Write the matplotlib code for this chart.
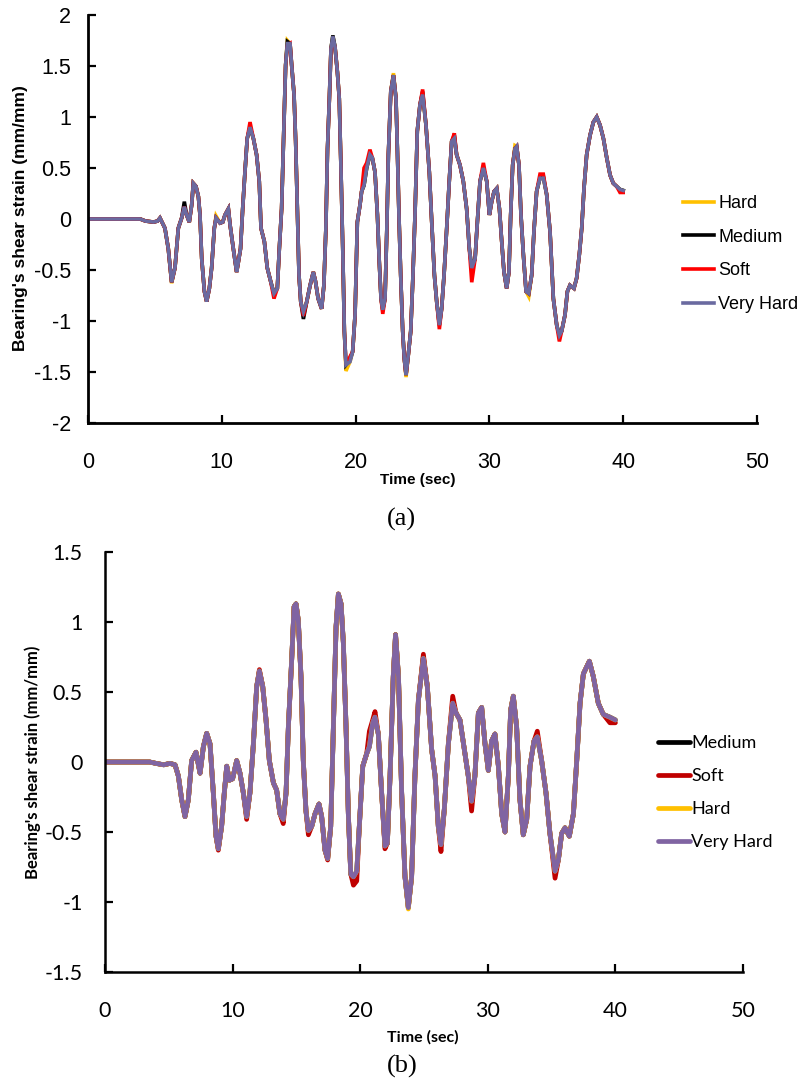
import matplotlib
matplotlib.use("Agg")
import matplotlib.pyplot as plt
from matplotlib.ticker import FuncFormatter

plt.rcParams['axes.unicode_minus'] = False

# ---------------- Panel (a) data ----------------
time_a = [0, 3.9, 4.3, 4.9, 5.2, 5.38, 5.75, 6.0, 6.25, 6.5,
          6.75, 7.0, 7.2, 7.37, 7.57, 7.75, 7.87, 8.07, 8.25, 8.37,
          8.5, 8.7, 8.87, 9.07, 9.24, 9.44, 9.57, 9.87, 10.07, 10.24,
          10.49, 10.62, 10.86, 11.11, 11.24, 11.4, 11.56, 11.73, 11.9, 12.11,
          12.36, 12.6, 12.8, 12.93, 13.18, 13.4, 13.65, 13.9, 14.15, 14.3,
          14.47, 14.65, 14.77, 14.9, 15.1, 15.22, 15.4, 15.52, 15.65, 15.77,
          15.9, 16.1, 16.35, 16.6, 16.84, 17.0, 17.2, 17.46, 17.63, 17.78,
          17.9, 18.04, 18.16, 18.3, 18.46, 18.64, 18.78, 18.9, 19.04, 19.16,
          19.28, 19.58, 19.78, 19.96, 20.13, 20.33, 20.45, 20.63, 20.83, 21.07,
          21.25, 21.45, 21.63, 21.77, 21.9, 22.03, 22.2, 22.33, 22.45, 22.63,
          22.83, 23.02, 23.12, 23.24, 23.37, 23.52, 23.64, 23.77, 23.94, 24.12,
          24.27, 24.44, 24.61, 24.81, 25.01, 25.26, 25.51, 25.69, 25.89, 26.06,
          26.26, 26.43, 26.61, 26.81, 27.0, 27.18, 27.38, 27.55, 27.8, 28.05,
          28.3, 28.5, 28.68, 28.93, 29.1, 29.3, 29.55, 29.8, 30.0, 30.17,
          30.35, 30.55, 30.75, 30.92, 31.09, 31.29, 31.46, 31.59, 31.74, 31.91,
          32.04, 32.21, 32.36, 32.54, 32.74, 32.94, 33.16, 33.33, 33.53, 33.78,
          34.03, 34.28, 34.53, 34.78, 35.03, 35.23, 35.4, 35.65, 35.83, 36.02,
          36.32, 36.52, 36.72, 36.9, 37.07, 37.27, 37.52, 37.77, 38.02, 38.27,
          38.52, 38.77, 39.02, 39.26, 39.51, 39.76, 40.0]

very_hard_a = [0, 0, -0.02, -0.03, -0.02, 0.01, -0.09, -0.29, -0.62, -0.48,
               -0.09, 0.01, 0.12, 0.04, -0.03, 0.14, 0.35, 0.32, 0.22, 0.04,
               -0.39, -0.71, -0.81, -0.68, -0.48, -0.09, 0.01, -0.04, -0.03, 0.04,
               0.10, -0.06, -0.29, -0.52, -0.42, -0.29, 0.10, 0.46, 0.79, 0.90,
               0.79, 0.63, 0.37, -0.09, -0.22, -0.48, -0.61, -0.73, -0.68, -0.29,
               0.10, 0.95, 1.51, 1.72, 1.72, 1.51, 1.22, 0.76, 0.10, -0.55,
               -0.81, -0.91, -0.81, -0.65, -0.52, -0.61, -0.78, -0.88, -0.65, -0.09,
               0.69, 1.18, 1.67, 1.79, 1.69, 1.44, 1.18, 0.53, -0.29, -1.10,
               -1.43, -1.40, -1.30, -0.94, -0.03, 0.14, 0.27, 0.33, 0.50, 0.63,
               0.60, 0.46, 0.04, -0.42, -0.78, -0.89, -0.78, -0.12, 0.63, 1.25,
               1.41, 1.18, 0.69, 0.04, -0.55, -1.10, -1.37, -1.53, -1.33, -1.10,
               -0.61, 0.04, 0.86, 1.12, 1.22, 0.92, 0.46, -0.03, -0.55, -0.81,
               -1.04, -0.88, -0.55, -0.09, 0.37, 0.76, 0.79, 0.63, 0.53, 0.37,
               0.10, -0.29, -0.48, -0.39, -0.03, 0.37, 0.50, 0.37, 0.04, 0.17,
               0.27, 0.30, 0.10, -0.22, -0.52, -0.68, -0.52, 0.04, 0.53, 0.69,
               0.71, 0.53, 0.04, -0.35, -0.71, -0.73, -0.55, -0.12, 0.27, 0.40,
               0.40, 0.24, -0.12, -0.78, -1.04, -1.14, -1.10, -0.94, -0.71, -0.65,
               -0.68, -0.58, -0.35, -0.09, 0.30, 0.63, 0.82, 0.95, 1.00, 0.92,
               0.79, 0.60, 0.43, 0.35, 0.32, 0.29, 0.28]

# values that differ from the Very Hard trace (time -> strain)
soft_a_diff = {12.11: 0.95, 13.9: -0.78, 16.1: -0.95, 19.58: -1.35, 20.63: 0.50,
               20.83: 0.55, 21.07: 0.68, 22.03: -0.93, 25.01: 1.27, 26.26: -1.08,
               27.38: 0.84, 28.68: -0.62, 29.55: 0.55, 33.78: 0.44, 34.03: 0.44,
               35.23: -1.20, 39.76: 0.26, 40.0: 0.26, 18.3: 1.74, 14.9: 1.70}
medium_a_diff = {7.2: 0.17, 14.9: 1.74, 16.1: -0.98, 18.3: 1.80, 19.58: -1.38,
                 25.01: 1.25, 27.38: 0.82, 34.03: 0.42}
hard_a_diff = {6.25: -0.63, 9.57: 0.03, 14.9: 1.75, 19.28: -1.49, 22.83: 1.43,
               23.77: -1.55, 31.91: 0.72, 32.94: -0.76}

# ---------------- Panel (b) data ----------------
time_b = [0, 3.5, 4.0, 4.6, 5.09, 5.49, 5.75, 6.01, 6.27, 6.53,
          6.79, 7.13, 7.45, 7.71, 7.97, 8.23, 8.49, 8.7, 8.88, 9.14,
          9.35, 9.54, 9.75, 10.0, 10.32, 10.58, 10.84, 11.1, 11.36, 11.63,
          11.89, 12.1, 12.36, 12.62, 12.88, 13.2, 13.45, 13.71, 13.97, 14.19,
          14.37, 14.63, 14.82, 14.97, 15.15, 15.36, 15.54, 15.75, 15.94, 16.2,
          16.46, 16.77, 16.98, 17.24, 17.45, 17.69, 17.9, 18.11, 18.29, 18.5,
          18.68, 18.89, 19.07, 19.26, 19.47, 19.73, 19.93, 20.2, 20.51, 20.72,
          20.98, 21.16, 21.42, 21.68, 21.94, 22.13, 22.34, 22.59, 22.77, 23.0,
          23.25, 23.51, 23.77, 24.03, 24.29, 24.56, 24.95, 25.26, 25.6, 25.87,
          26.12, 26.33, 26.59, 26.91, 27.25, 27.51, 27.82, 28.13, 28.47, 28.73,
          28.99, 29.26, 29.52, 29.78, 30.04, 30.3, 30.56, 30.83, 31.09, 31.35,
          31.61, 31.79, 32.0, 32.26, 32.52, 32.78, 33.05, 33.31, 33.62, 33.88,
          34.22, 34.56, 34.87, 35.27, 35.53, 35.79, 36.05, 36.39, 36.71, 36.97,
          37.23, 37.49, 37.96, 38.27, 38.66, 39.05, 39.57, 40.0]

very_hard_b = [0, 0, -0.01, -0.02, -0.01, -0.02, -0.10, -0.27, -0.39, -0.27,
               0.01, 0.07, -0.08, 0.11, 0.205, 0.13, -0.22, -0.53, -0.62, -0.46,
               -0.22, -0.03, -0.13, -0.12, 0.01, -0.08, -0.22, -0.39, -0.22, 0.13,
               0.54, 0.65, 0.54, 0.30, 0.01, -0.15, -0.20, -0.37, -0.41, -0.22,
               0.25, 0.73, 1.11, 1.13, 1.01, 0.61, 0.01, -0.35, -0.49, -0.46,
               -0.37, -0.30, -0.39, -0.63, -0.69, -0.46, 0.25, 0.97, 1.20, 1.13,
               0.85, 0.25, -0.37, -0.80, -0.82, -0.78, -0.46, -0.03, 0.06, 0.11,
               0.28, 0.32, 0.20, -0.22, -0.60, -0.58, -0.10, 0.61, 0.91, 0.61,
               -0.22, -0.82, -1.04, -0.82, -0.10, 0.44, 0.74, 0.54, 0.09, -0.10,
               -0.46, -0.59, -0.34, 0.13, 0.42, 0.35, 0.30, 0.11, -0.10, -0.28,
               -0.10, 0.35, 0.39, 0.13, -0.06, 0.15, 0.20, -0.03, -0.37, -0.50,
               -0.10, 0.37, 0.47, 0.25, -0.27, -0.52, -0.41, -0.03, 0.15, 0.18,
               0.01, -0.22, -0.51, -0.78, -0.70, -0.51, -0.47, -0.53, -0.37, 0.01,
               0.42, 0.63, 0.72, 0.61, 0.42, 0.34, 0.32, 0.30]

soft_b_diff = {8.88: -0.63, 11.1: -0.41, 12.1: 0.66, 13.97: -0.44, 15.94: -0.52,
               17.45: -0.70, 19.47: -0.88, 19.73: -0.85, 20.72: 0.22, 20.98: 0.30,
               21.16: 0.36, 21.94: -0.62, 24.95: 0.77, 26.33: -0.64, 27.25: 0.47,
               28.73: -0.35, 33.88: 0.22, 35.27: -0.83, 39.57: 0.28, 40.0: 0.28}
medium_b_diff = {19.47: -0.84, 24.95: 0.75}
hard_b_diff = {23.77: -1.05}

labels_a = ["Hard", "Medium", "Soft", "Very Hard"]
labels_b = ["Medium", "Soft", "Hard", "Very Hard"]
xticks = [0, 10, 20, 30, 40, 50]
yticks_a = [-2, -1.5, -1, -0.5, 0, 0.5, 1, 1.5, 2]
yticks_b = [-1.5, -1, -0.5, 0, 0.5, 1, 1.5]


def series(times, base, diff):
    return [diff.get(t, v) for t, v in zip(times, base)]


W, H = 798, 1081
fig = plt.figure(figsize=(W / 100, H / 100), dpi=100)
fmt = FuncFormatter(lambda v, p: "%g" % v)

# ---------------- Panel (a) ----------------
ax1 = fig.add_axes([88 / W, 1 - 423 / H, (757 - 88) / W, (423 - 15) / H])
cols_a = {"Hard": "#FFC000", "Medium": "#000000", "Soft": "#FF0000", "Very Hard": "#6A6AA0"}
data_a = {"Hard": series(time_a, very_hard_a, hard_a_diff),
          "Medium": series(time_a, very_hard_a, medium_a_diff),
          "Soft": series(time_a, very_hard_a, soft_a_diff),
          "Very Hard": very_hard_a}
handles_a = []
for lab in labels_a:
    ln, = ax1.plot(time_a, data_a[lab], color=cols_a[lab], lw=2.6, solid_joinstyle='miter')
    handles_a.append(ln)
ax1.set_xlim(0, 50)
ax1.set_ylim(-2, 2)
ax1.set_xticks(xticks)
ax1.set_yticks(yticks_a)
ax1.xaxis.set_major_formatter(fmt)
ax1.yaxis.set_major_formatter(fmt)
for s in ["top", "right"]:
    ax1.spines[s].set_visible(False)
for s in ["left", "bottom"]:
    ax1.spines[s].set_linewidth(2.0)
ax1.tick_params(direction='in', length=6, width=1.6, labelsize=15.5,
                labelfontfamily="Liberation Sans")
ax1.tick_params(axis='x', pad=21)
ax1.tick_params(axis='y', pad=12)
ax1.set_facecolor("none")
ax1.legend(handles_a, labels_a, loc='upper left', bbox_to_anchor=(683 / W, 1 - 195 / H),
           bbox_transform=fig.transFigure, frameon=False, borderpad=0, borderaxespad=0,
           handlelength=1.7, handletextpad=0.25, labelspacing=0.92,
           prop={"family": "Liberation Sans", "size": 13})
fig.text(418 / W, 1 - 480 / H, "Time (sec)", ha='center', va='center',
         family="Liberation Sans", weight='bold', size=11)
fig.text(21 / W, 1 - 218 / H, "Bearing's shear strain (mm/mm)", ha='center', va='center',
         rotation=90, family="Liberation Sans", weight='bold', size=12.5)
fig.text(401 / W, 1 - 519 / H, "(a)", ha='center', va='center',
         family="Liberation Serif", size=19)

# ---------------- Panel (b) ----------------
ax2 = fig.add_axes([105 / W, 1 - 972 / H, (743 - 105) / W, (972 - 552) / H])
cols_b = {"Medium": "#000000", "Soft": "#C00000", "Hard": "#FFC000", "Very Hard": "#8064A2"}
data_b = {"Medium": series(time_b, very_hard_b, medium_b_diff),
          "Soft": series(time_b, very_hard_b, soft_b_diff),
          "Hard": series(time_b, very_hard_b, hard_b_diff),
          "Very Hard": very_hard_b}
handles_b = []
for lab in labels_b:
    ln, = ax2.plot(time_b, data_b[lab], color=cols_b[lab], lw=3.4, solid_capstyle='round')
    handles_b.append(ln)
ax2.set_xlim(0, 50)
ax2.set_ylim(-1.5, 1.5)
ax2.set_xticks(xticks)
ax2.set_yticks(yticks_b)
ax2.xaxis.set_major_formatter(fmt)
ax2.yaxis.set_major_formatter(fmt)
for s in ["top", "right"]:
    ax2.spines[s].set_visible(False)
for s in ["left", "bottom"]:
    ax2.spines[s].set_linewidth(1.8)
ax2.tick_params(direction='in', length=6, width=1.6, labelsize=15.5,
                labelfontfamily="Lato")
ax2.tick_params(axis='x', pad=21)
ax2.tick_params(axis='y', pad=16)
ax2.set_facecolor("none")
ax2.legend(handles_b, labels_b, loc='upper left', bbox_to_anchor=(658 / W, 1 - 735 / H),
           bbox_transform=fig.transFigure, frameon=False, borderpad=0, borderaxespad=0,
           handlelength=1.75, handletextpad=0.1, labelspacing=0.95,
           prop={"family": "Lato", "size": 13})
fig.text(423 / W, 1 - 1037 / H, "Time (sec)", ha='center', va='center',
         family="Lato", weight='bold', size=11.5)
fig.text(33 / W, 1 - 762 / H, "Bearing's shear strain (mm/mm)", ha='center', va='center',
         rotation=90, family="Lato", weight='bold', size=12)
fig.text(402 / W, 1 - 1066 / H, "(b)", ha='center', va='center',
         family="Liberation Serif", size=19)

fig.savefig("out.png", dpi=100)
